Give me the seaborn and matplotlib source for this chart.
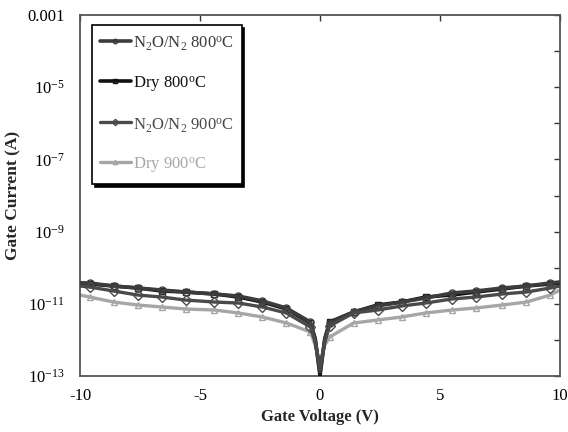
import numpy as np
import pandas as pd
import matplotlib
matplotlib.use("Agg")
import matplotlib.pyplot as plt
from matplotlib.ticker import FixedLocator, FuncFormatter, NullLocator
import seaborn as sns

# Gate voltage sweep (V)
gate_voltage = [-10, -9.6, -8.6, -7.6, -6.6, -5.6, -4.4, -3.4, -2.4, -1.4, -0.4, -0.2, 0,
                0.2, 0.4, 1.4, 2.4, 3.4, 4.4, 5.5, 6.5, 7.6, 8.6, 9.6, 10]

# Gate leakage current (A) for each oxidation condition
n2o_800 = [3.77e-11, 3.77e-11, 3.11e-11, 2.74e-11, 2.41e-11, 2.12e-11, 1.87e-11, 1.64e-11,
           1.20e-11, 7.65e-12, 3.13e-12, 1.0e-12, 1.3e-13,
           1.0e-12, 2.94e-12, 5.93e-12, 8.69e-12, 1.12e-11, 1.45e-11, 1.99e-11, 2.26e-11,
           2.74e-11, 3.11e-11, 3.77e-11, 4.02e-11]
dry_800 = [3.77e-11, 3.53e-11, 3.11e-11, 2.74e-11, 2.26e-11, 2.12e-11, 1.87e-11, 1.54e-11,
           1.12e-11, 7.18e-12, 2.94e-12, 1.1e-12, 1.0e-13,
           1.1e-12, 3.13e-12, 5.93e-12, 9.27e-12, 1.12e-11, 1.54e-11, 1.75e-11, 2.12e-11,
           2.57e-11, 3.11e-11, 3.53e-11, 3.77e-11]
n2o_900 = [3.11e-11, 2.92e-11, 2.26e-11, 1.75e-11, 1.54e-11, 1.27e-11, 1.12e-11, 1.05e-11,
           8.15e-12, 5.56e-12, 2.28e-12, 8.7e-13, 1.6e-13,
           8.7e-13, 2.43e-12, 5.56e-12, 6.73e-12, 8.69e-12, 1.05e-11, 1.36e-11, 1.54e-11,
           1.87e-11, 2.12e-11, 2.74e-11, 3.11e-11]
dry_900 = [1.75e-11, 1.54e-11, 1.12e-11, 9.27e-12, 8.15e-12, 7.18e-12, 6.73e-12, 5.56e-12,
           4.31e-12, 2.94e-12, 1.66e-12, 7.2e-13, 2.3e-13,
           7.2e-13, 1.20e-12, 2.94e-12, 3.56e-12, 4.31e-12, 5.56e-12, 6.73e-12, 7.65e-12,
           9.27e-12, 1.12e-11, 1.75e-11, 2.41e-11]

series_labels = [r"N$_2$O/N$_2$ 800$^{\rm o}$C", r"Dry 800$^{\rm o}$C",
                 r"N$_2$O/N$_2$ 900$^{\rm o}$C", r"Dry 900$^{\rm o}$C"]
y_tick_exponents = list(range(-13, -2))

sns.set_theme(style="white")
plt.rcParams["font.family"] = ["Liberation Serif", "DejaVu Serif"]
plt.rcParams["mathtext.fontset"] = "custom"
plt.rcParams["mathtext.rm"] = "Liberation Serif"
plt.rcParams["mathtext.it"] = "Liberation Serif:italic"
plt.rcParams["mathtext.bf"] = "Liberation Serif:bold"
plt.rcParams["axes.unicode_minus"] = False

fig = plt.figure(figsize=(5.68, 4.32), dpi=100)
ax = fig.add_axes([80 / 568, 56 / 432, 480 / 568, 361 / 432])

styles = [
    dict(color="#3c3c3c", marker="o", lw=2.6, zorder=4),
    dict(color="#111111", marker="s", lw=2.6, zorder=3),
    dict(color="#4a4a4a", marker="D", lw=2.4, zorder=5),
    dict(color="#a6a6a6", marker="^", lw=2.4, zorder=2),
]
mark_idx = [i for i, v in enumerate(gate_voltage) if v not in (-10, -0.2, 0, 0.2, 10)]

for vals, lab, st in zip([n2o_800, dry_800, n2o_900, dry_900], series_labels, styles):
    df = pd.DataFrame({"V": gate_voltage, "I": vals})
    sns.lineplot(data=df, x="V", y="I", ax=ax, label=lab, color=st["color"],
                 linewidth=st["lw"], marker=st["marker"], markersize=5,
                 markerfacecolor="none", markeredgecolor=st["color"],
                 markeredgewidth=1.0, markevery=mark_idx, zorder=st["zorder"],
                 estimator=None, sort=False)

ax.set_yscale("log")
ax.set_xlim(-10, 10)
ax.set_ylim(1e-13, 1e-3)
ax.set_xticks([-10, -5, 0, 5, 10])
ax.yaxis.set_major_locator(FixedLocator([10.0 ** e for e in y_tick_exponents]))
ax.yaxis.set_minor_locator(NullLocator())


def y_fmt(v, pos):
    e = int(round(np.log10(v)))
    if e == -3:
        return "0.001"
    if e % 2 == 0:
        return ""
    return r"10$^{%d}$" % e


ax.yaxis.set_major_formatter(FuncFormatter(y_fmt))
ax.tick_params(axis="both", which="major", direction="in", length=4, width=1,
               color="#333333", top=True, right=True, labelsize=12,
               labelcolor="black")
ax.tick_params(axis="y", pad=11)
ax.tick_params(axis="x", pad=9)
for sp in ax.spines.values():
    sp.set_color("#555555")
    sp.set_linewidth(1.3)

ax.set_xlabel("Gate Voltage (V)", fontsize=12, fontweight="bold", labelpad=3)
ax.set_ylabel("Gate Current (A)", fontsize=12.5, fontweight="bold", labelpad=4)

handles, labels = ax.get_legend_handles_labels()
leg = ax.legend(handles, labels, loc="upper left", bbox_to_anchor=(0.025, 0.972),
                fontsize=12, labelcolor="linecolor", frameon=True, fancybox=False,
                shadow={"color": "black", "alpha": 1.0}, edgecolor="black",
                handlelength=1.9, handleheight=1.55, handletextpad=0.12,
                labelspacing=1.15, borderpad=0.45, borderaxespad=0)
leg.get_frame().set_linewidth(1.2)
leg.set_zorder(10)
for h in leg.legend_handles:
    h.set_markersize(3.2)

fig.savefig("out.png", dpi=100)
